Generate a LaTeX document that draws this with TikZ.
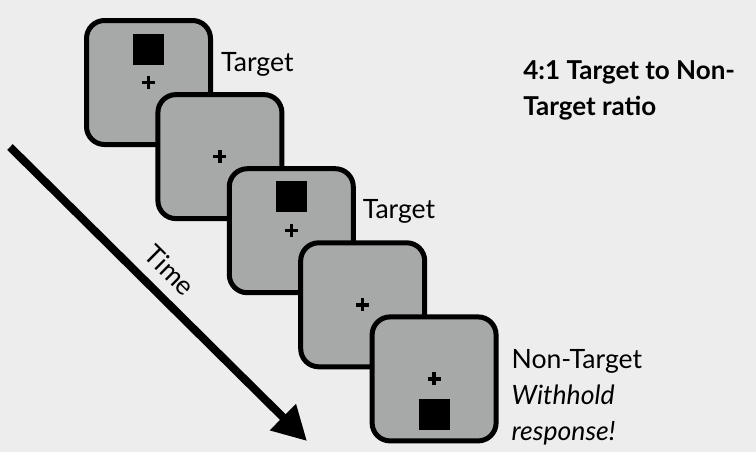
\documentclass[tikz,border=0pt]{standalone}
\usepackage{fontspec}
\setmainfont{Lato}
\usetikzlibrary{arrows.meta}

\definecolor{backdrop}{RGB}{237,237,237}
\definecolor{screengrey}{RGB}{166,169,167}

\begin{document}
\begin{tikzpicture}[x=0.5pt, y=-0.5pt,
                    screen/.style={draw, line width=2.5pt, fill=screengrey, rounded corners=9pt, minimum size=62pt, inner sep=0pt},
                    stim/.style={fill=black, minimum size=15.5pt, inner sep=0pt},
                    fixcross/.pic={\draw[line width=1.7pt] (-6.5,0) -- (6.5,0) (0,-6.5) -- (0,6.5);},
                    lbl/.style={anchor=base west, inner sep=0pt, align=left, font=\fontsize{13.3}{18}\selectfont},
                    ratio/.style={anchor=base west, inner sep=0pt, align=left, font=\fontsize{13}{18}\selectfont\bfseries},
                    timeline/.style={line width=4pt, -{Triangle[length=17pt, width=17.5pt]}}]

\path[use as bounding box, fill=backdrop] (0,0) rectangle (756,452);

% five screens, each one on top of the one before
\node [screen] (s1) at (148.5, 82.5) {};
\node [stim] (q1) at ([yshift=16.5pt]s1.center) {};
\pic at (s1) {fixcross};

\node [screen] (s2) at (219.9, 156.6) {};
\pic at (s2) {fixcross};

\node [screen] (s3) at (291.3, 230.7) {};
\node [stim] (q3) at ([yshift=17pt]s3.center) {};
\pic at (s3) {fixcross};

\node [screen] (s4) at (362.7, 304.8) {};
\pic at (s4) {fixcross};

\node [screen] (s5) at (434.1, 378.9) {};
\node [stim] (q5) at ([yshift=-18pt]s5.center) {};
\pic at (s5) {fixcross};

% trial labels (base = last line)
\node [lbl] (lab1) at ([xshift=3.9pt, yshift=5.3pt]s1.east) {Target};
\node [lbl] (lab3) at ([xshift=3.3pt, yshift=6pt]s3.east) {Target};
\node [lbl] (lab5) at ([xshift=6.3pt, yshift=-30.6pt]s5.east) {Non-Target\\\itshape Withhold\\\itshape response!};

\node [ratio] (ratio) at (523, 115) {4:1 Target to Non-\\Target ratio};

% time axis
\coordinate (t0) at (10, 147);
\coordinate (t1) at (307, 441);
\draw [timeline] (t0) -- node[sloped, above=5.5pt, inner sep=0pt, pos=0.48, font=\fontsize{13.3}{16}\selectfont] (tlab) {Time} (t1);

\end{tikzpicture}
\end{document}
